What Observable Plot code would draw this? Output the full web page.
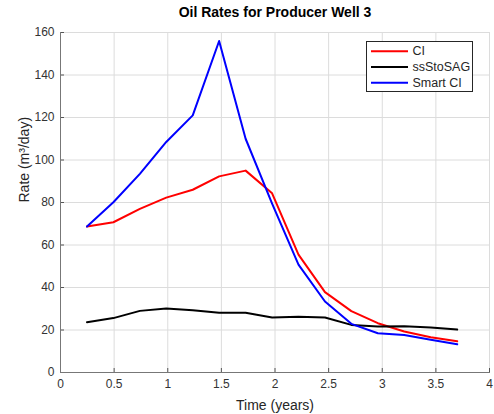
<!DOCTYPE html>
<html>
<head>
<meta charset="utf-8">
<script src="https://cdn.jsdelivr.net/npm/d3@7"></script>
<script src="https://cdn.jsdelivr.net/npm/@observablehq/plot@0.6"></script>
<style>
  html, body { margin: 0; padding: 0; background: #fff; }
  svg { display: block; }
</style>
</head>
<body>
<div id="chart"></div>
<script>
const title = "Oil Rates for Producer Well 3";
const xLabel = "Time (years)";
const yLabel = "Rate (m³/day)";
const timeYears = [0.247, 0.493, 0.740, 0.986, 1.233, 1.479, 1.726, 1.973, 2.219, 2.466, 2.712, 2.959, 3.205, 3.452, 3.699];
const ciRates = [68.7, 70.7, 77.0, 82.3, 86.0, 92.3, 95.0, 84.3, 55.5, 37.8, 28.9, 23.2, 19.3, 16.6, 14.7];
const ssStoSAGRates = [23.7, 25.6, 29.0, 30.1, 29.3, 28.1, 28.1, 25.9, 26.2, 25.9, 22.4, 21.6, 21.8, 21.2, 20.2];
const smartCiRates = [68.7, 80.1, 93.5, 108.5, 121.0, 156.0, 110.0, 79.5, 50.8, 33.4, 22.9, 18.5, 17.6, 15.4, 13.3];
const seriesNames = ["CI", "ssStoSAG", "Smart CI"];
const seriesColors = ["#ff0000", "#000000", "#0000ff"];
const seriesValues = [ciRates, ssStoSAGRates, smartCiRates];
const xTicks = [0, 0.5, 1, 1.5, 2, 2.5, 3, 3.5, 4];
const yTicks = [0, 20, 40, 60, 80, 100, 120, 140, 160];

const rows = [];
seriesNames.forEach((name, i) => {
  timeYears.forEach((t, j) => rows.push({series: name, t, v: seriesValues[i][j]}));
});

const lineSymbol = {draw(ctx) { ctx.moveTo(-18.5, 0); ctx.lineTo(18.5, 0); }};
const font = "Liberation Sans, Arial, Helvetica, sans-serif";

const legendMarks = [];
seriesNames.forEach((name, i) => {
  legendMarks.push(Plot.dot([name], {frameAnchor: "top-right", dx: -100, dy: 18.7 + i * 15.8, symbol: lineSymbol, r: 5, stroke: seriesColors[i], strokeWidth: 2, fill: "none"}));
  legendMarks.push(Plot.text([name], {frameAnchor: "top-right", lineAnchor: "middle", dx: -77, dy: 18.7 + i * 15.8, text: d => d, textAnchor: "start", fontSize: 12.5, fill: "#262626"}));
});

const chart = Plot.plot({
  width: 494,
  height: 414,
  marginLeft: 60,
  marginRight: 5,
  marginTop: 32,
  marginBottom: 42,
  style: {fontFamily: font, fontSize: "12px", color: "#262626", background: "#fff"},
  x: {domain: [0, 4]},
  y: {domain: [0, 160]},
  color: {domain: seriesNames, range: seriesColors},
  marks: [
    Plot.gridX(xTicks, {stroke: "#dcdcdc", strokeOpacity: 1}),
    Plot.gridY(yTicks, {stroke: "#dcdcdc", strokeOpacity: 1}),
    Plot.line(rows, {x: "t", y: "v", z: "series", stroke: "series", strokeWidth: 2}),
    Plot.axisX(xTicks, {tickSize: -4, tickPadding: 11, tickFormat: d => String(d), stroke: "#555", fill: "#333", fontSize: 12, label: null}),
    Plot.axisY(yTicks, {tickSize: -4, tickPadding: 10, tickFormat: d => String(d), stroke: "#555", fill: "#333", fontSize: 12, label: null}),
    Plot.frame({anchor: "bottom", stroke: "#777"}),
    Plot.frame({anchor: "left", stroke: "#777"}),
    Plot.frame({insetLeft: 306, insetRight: 17, insetTop: 9, insetBottom: 281, fill: "#fff", stroke: "#262626", strokeWidth: 1}),
    ...legendMarks,
    Plot.text([title], {frameAnchor: "top", lineAnchor: "middle", dy: -20, text: d => d, fontWeight: "bold", fontSize: 14, fill: "#000"}),
    Plot.text([xLabel], {frameAnchor: "bottom", lineAnchor: "middle", dy: 33, text: d => d, fontSize: 14, fill: "#262626"}),
    Plot.text([yLabel], {frameAnchor: "left", lineAnchor: "middle", dx: -36, rotate: -90, text: d => d, fontSize: 14, fill: "#262626"})
  ]
});
document.getElementById("chart").appendChild(chart);
</script>
</body>
</html>
